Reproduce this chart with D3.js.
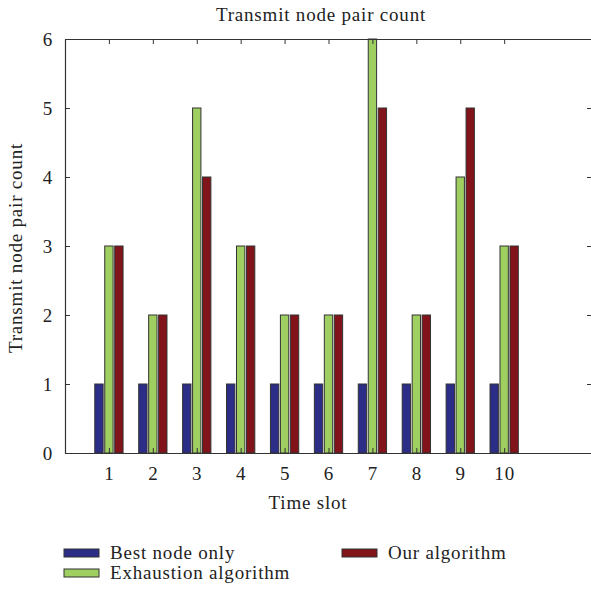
<!DOCTYPE html>
<html>
<head>
<meta charset="utf-8">
<script src="https://cdn.jsdelivr.net/npm/d3@7"></script>
<style>
  body { margin: 0; background: #fff; }
  text { font-family: "Liberation Serif", "DejaVu Serif", serif; fill: #222; letter-spacing: 0.8px; }
</style>
</head>
<body>
<div id="chart"></div>
<script>
// data
const slots = [1, 2, 3, 4, 5, 6, 7, 8, 9, 10]
const bestNode = [1, 1, 1, 1, 1, 1, 1, 1, 1, 1]
const exhaustion = [3, 2, 5, 3, 2, 2, 6, 2, 4, 3]
const ourAlgo = [3, 2, 4, 3, 2, 2, 5, 2, 5, 3]
const seriesNames = ["Best node only", "Exhaustion algorithm", "Our algorithm"]
const colors = ["#2b2d86", "#9fcf60", "#80141a"]
const yTicks = [0, 1, 2, 3, 4, 5, 6]

const W = 591, H = 593
const margin = {top: 39, right: -1, bottom: 140, left: 65}
const width = W - margin.left - margin.right,
      height = H - margin.top - margin.bottom

const svg = d3.select("#chart").append("svg")
    .attr("width", W).attr("height", H)
const g = svg.append("g")
    .attr("transform", `translate(${margin.left}, ${margin.top})`)

const x = d3.scaleLinear().domain([0, 12]).range([0, width])
const y = d3.scaleLinear().domain([0, 6]).range([height, 0])

const series = [bestNode, exhaustion, ourAlgo]
const barW = 0.19, step = 0.227

// bars
series.forEach(function (vals, si) {
  g.append("g").selectAll("rect")
    .data(slots)
    .join("rect")
      .attr("x", (d) => x(d + (si - 1) * step - barW / 2))
      .attr("width", x(barW) - x(0))
      .attr("y", (d, i) => y(vals[i]))
      .attr("height", (d, i) => y(0) - y(vals[i]))
      .style("fill", colors[si])
      .style("stroke", "#333")
      .style("stroke-width", 1)
})

// frame + axes
const axStyle = (sel) => {
  sel.select(".domain").attr("stroke", "#333").attr("stroke-width", 1.2)
  sel.selectAll(".tick line").attr("stroke", "#333")
  sel.selectAll(".tick text").style("font-size", "19px")
}
g.append("g")
  .attr("transform", `translate(0, ${height})`)
  .call(d3.axisBottom(x).tickValues(slots).tickSize(-5).tickSizeOuter(0).tickPadding(14).tickFormat(d3.format("d")))
  .call(axStyle)
g.append("g")
  .call(d3.axisTop(x).tickValues(slots).tickSize(-5).tickSizeOuter(0).tickFormat(""))
  .call(axStyle)
g.append("g")
  .call(d3.axisLeft(y).tickValues(yTicks).tickSize(-5).tickSizeOuter(0).tickPadding(12).tickFormat(d3.format("d")))
  .call(axStyle)
g.append("g")
  .attr("transform", `translate(${width}, 0)`)
  .call(d3.axisRight(y).tickValues(yTicks).tickSize(-5).tickSizeOuter(0).tickFormat(""))
  .call(axStyle)
g.selectAll(".tick text").attr("font-family", null)

// titles
svg.append("text")
  .attr("x", 321).attr("y", 21)
  .attr("text-anchor", "middle").style("font-size", "19px")
  .text("Transmit node pair count")
svg.append("text")
  .attr("x", 308).attr("y", 509)
  .attr("text-anchor", "middle").style("font-size", "19px")
  .text("Time slot")
svg.append("text")
  .attr("transform", `translate(22, ${margin.top + y(3) + 2}) rotate(-90)`)
  .attr("text-anchor", "middle").style("font-size", "19px")
  .text("Transmit node pair count")

// legend
const legendPos = [[64, 553], [64, 573], [342, 553]]
const legend = svg.append("g")
seriesNames.forEach(function (name, i) {
  const [lx, ly] = legendPos[i]
  legend.append("rect")
    .attr("x", lx).attr("y", ly - 4).attr("width", 35).attr("height", 8)
    .style("fill", colors[i]).style("stroke", "#333").style("stroke-width", 1)
  legend.append("text")
    .attr("x", lx + 46).attr("y", ly + 6)
    .style("font-size", "19px")
    .text(name)
})
</script>
</body>
</html>
